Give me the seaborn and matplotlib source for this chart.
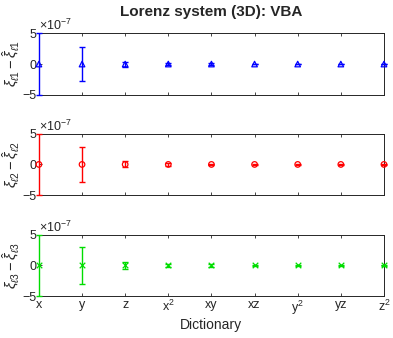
import matplotlib
matplotlib.use('Agg')
import matplotlib.pyplot as plt
import seaborn as sns
import numpy as np
import pandas as pd

terms = ['x', 'y', 'z', 'x$^2$', 'xy', 'xz', 'y$^2$', 'yz', 'z$^2$']

# mean difference and error half-width, in units of 1e-7
diff_1 = [0, 0, 0, 0, 0, 0, 0, 0, 0]
err_1 = [5.0, 2.8, 0.4, 0.15, 0.1, 0.05, 0.05, 0.05, 0.05]
diff_2 = [0, 0, 0, 0, 0, 0, 0, 0, 0]
err_2 = [5.0, 2.9, 0.5, 0.2, 0.15, 0.1, 0.1, 0.1, 0.1]
diff_3 = [0, 0, 0, 0, 0, 0, 0, 0, 0]
err_3 = [5.0, 3.0, 0.5, 0.3, 0.3, 0.15, 0.15, 0.15, 0.05]

panels = [
    (diff_1, err_1, '#0000ff', '^', r'$\xi_{\ell 1}-\hat{\xi}_{\ell 1}$'),
    (diff_2, err_2, '#ff0000', 'o', r'$\xi_{\ell 2}-\hat{\xi}_{\ell 2}$'),
    (diff_3, err_3, '#00dd00', 'x', r'$\xi_{\ell 3}-\hat{\xi}_{\ell 3}$'),
]

sns.set_style("white")
plt.rcParams['font.family'] = ['Liberation Sans', 'DejaVu Sans']
plt.rcParams['mathtext.fontset'] = 'custom'
plt.rcParams['mathtext.rm'] = 'Liberation Sans'
plt.rcParams['mathtext.it'] = 'Liberation Sans:italic'

fig = plt.figure(figsize=(3.93, 3.38), dpi=100)
boxes = [[0.099, 0.719, 0.878, 0.183],
         [0.099, 0.423, 0.878, 0.181],
         [0.099, 0.124, 0.878, 0.181]]

edge = '#262626'
for i, (d, e, col, mk, lab) in enumerate(panels):
    ax = fig.add_axes(boxes[i])
    df = pd.DataFrame({'pos': np.arange(len(terms)), 'diff': d, 'err': e})
    bars = ax.errorbar(df['pos'], df['diff'], yerr=df['err'], fmt='none',
                       ecolor=col, elinewidth=1.0, capsize=2.5,
                       capthick=1.0, zorder=3)
    for art in bars.lines[1] + bars.lines[2]:
        art.set_clip_on(False)
    sns.scatterplot(data=df, x='pos', y='diff', ax=ax, marker=mk,
                    s=16, facecolor='none' if mk != 'x' else col,
                    edgecolor=col, linewidth=0.9, color=col,
                    clip_on=False, zorder=4)
    ax.set_xlim(0, 8)
    ax.set_ylim(-5, 5)
    ax.set_yticks([-5, 0, 5])
    ax.set_xticks(df['pos'])
    if i == 2:
        ax.set_xticklabels(terms)
        ax.set_xlabel('Dictionary', fontsize=10, color=edge, labelpad=1)
    else:
        ax.set_xticklabels([])
        ax.set_xlabel('')
    ax.set_ylabel(lab, fontsize=10.5, color=edge, labelpad=1)
    ax.tick_params(direction='in', length=2.5, width=0.6, top=True,
                   right=True, labelsize=9, colors=edge, pad=2,
                   bottom=True, left=True)
    for s in ax.spines.values():
        s.set_color(edge)
        s.set_linewidth(0.7)
    ax.text(0.0, 1.0, r'$\times10^{-7}$', transform=ax.transAxes,
            fontsize=9, color=edge, ha='left', va='bottom')
    if i == 0:
        ax.set_title('Lorenz system (3D): VBA', fontsize=11,
                     fontweight='bold', pad=12)

fig.savefig('out.png', dpi=100)
